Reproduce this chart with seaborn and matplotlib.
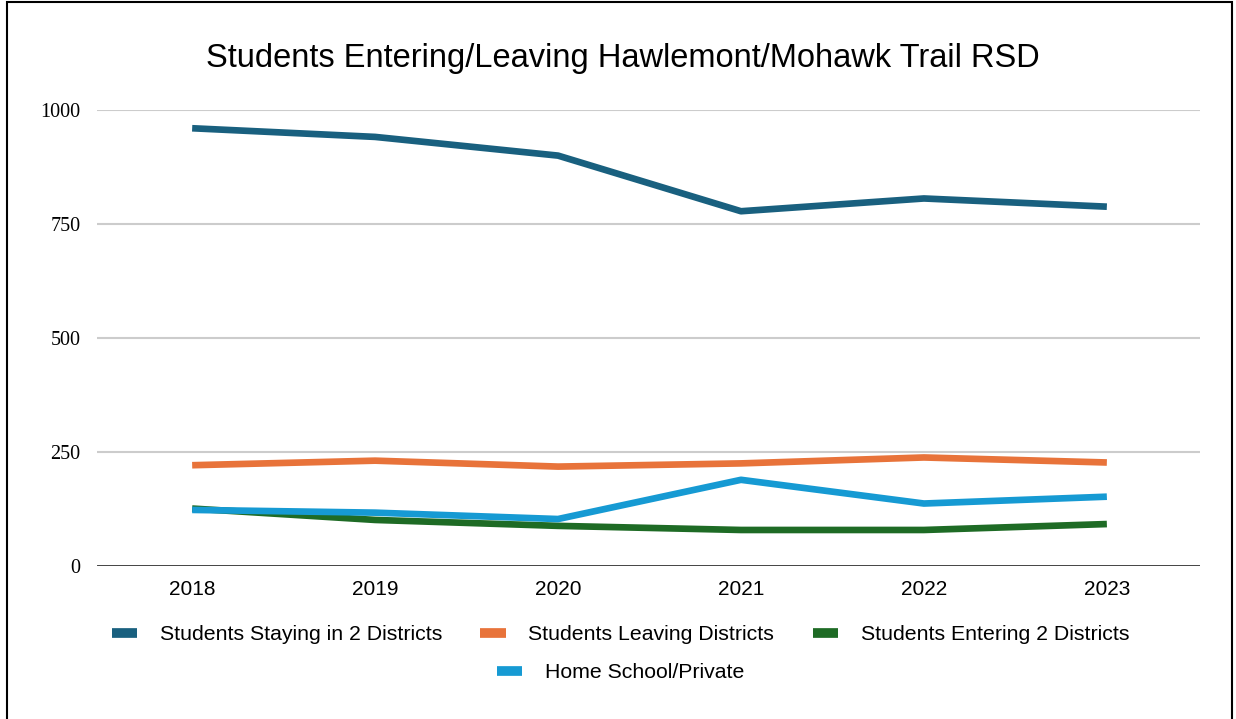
import numpy as np
import pandas as pd
import matplotlib
matplotlib.use("Agg")
import matplotlib.pyplot as plt
from matplotlib.lines import Line2D
from matplotlib.patches import Rectangle
import seaborn as sns

# =========================================
# DADOS
# =========================================

anos = [2018, 2019, 2020, 2021, 2022, 2023]

staying = [960, 941, 900, 778, 806, 788]
leaving = [221, 231, 218, 225, 238, 227]
entering = [126, 101, 88, 79, 79, 92]
home_school = [123, 117, 103, 189, 137, 152]

series_names = [
    "Students Staying in 2 Districts",
    "Students Leaving Districts",
    "Students Entering 2 Districts",
    "Home School/Private",
]

cores = ["#19607f", "#e8733a", "#1e6b25", "#169ad3"]

titulo = "Students Entering/Leaving Hawlemont/Mohawk Trail RSD"

y_ticks = [0, 250, 500, 750, 1000]

# long format pro seaborn
df = pd.DataFrame({
    "ano": anos * 4,
    "valor": staying + leaving + entering + home_school,
    "serie": [n for n in series_names for _ in anos],
})

# =========================================
# FIGURA
# =========================================

sns.set_style("white")
plt.rcParams["font.family"] = ["Liberation Sans", "DejaVu Sans"]
plt.rcParams["text.color"] = "black"
plt.rcParams["xtick.color"] = "black"
plt.rcParams["ytick.color"] = "black"

fig = plt.figure(figsize=(12.36, 7.19), dpi=100)
ax = fig.add_axes([0.0785, 0.2128, 0.8925, 0.6342])

sns.lineplot(
    data=df,
    x="ano",
    y="valor",
    hue="serie",
    hue_order=series_names,
    palette=cores,
    linewidth=4.8,
    solid_capstyle="butt",
    legend=False,
    ax=ax,
)

ax.set_xlim(anos[0] - 0.52, anos[-1] + 0.51)
ax.set_ylim(0, 1000)
ax.set_xticks(anos)
ax.set_xticklabels([str(a) for a in anos], fontsize=15)
ax.set_yticks(y_ticks)
ax.set_yticklabels([str(t) for t in y_ticks], fontsize=14.5,
                   family=["Liberation Serif", "DejaVu Serif"])
ax.tick_params(axis="both", length=0, pad=10)
ax.tick_params(axis="y", pad=12)

ax.set_xlabel("")
ax.set_ylabel("")

# grade
for t in y_ticks[1:]:
    ax.axhline(t, color="#cccccc", linewidth=1.5, zorder=0)
ax.axhline(0, color="#333333", linewidth=2, zorder=1)

for s in ax.spines.values():
    s.set_visible(False)

# titulo
fig.text(0.504, 0.918, titulo, ha="center", va="center", fontsize=23.5)

# =========================================
# LEGENDA (3 + 1 centralizada)
# =========================================

handles = [
    Line2D([0], [0], color=c, linewidth=7, solid_capstyle="butt")
    for c in cores
]

leg1 = fig.legend(
    handles[:3], series_names[:3],
    loc="center", bbox_to_anchor=(0.502, 0.117),
    ncol=3, frameon=False, fontsize=15.3,
    handlelength=1.18, handletextpad=1.08, columnspacing=1.8,
)
leg2 = fig.legend(
    handles[3:], series_names[3:],
    loc="center", bbox_to_anchor=(0.502, 0.064),
    ncol=1, frameon=False, fontsize=15.3,
    handlelength=1.18, handletextpad=1.08,
)

# borda
fig.patches.append(Rectangle(
    (0.006, -0.01), 0.991, 1.007,
    transform=fig.transFigure, fill=False,
    edgecolor="black", linewidth=1.5,
))

fig.savefig("out.png", dpi=100)
